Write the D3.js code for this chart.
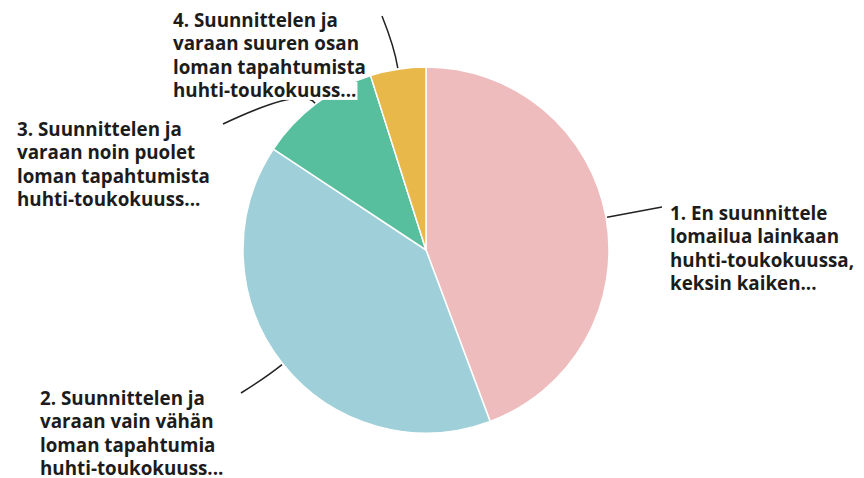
<!DOCTYPE html>
<html lang="fi">
<head>
<meta charset="UTF-8">
<title>Pie</title>
<script src="https://d3js.org/d3.v7.min.js"></script>
<style>
  body { margin: 0; padding: 0; background: #fff; }
  #chart { display: block; }
  .lbl { font-family: "Open Sans", Lato, sans-serif; font-weight: 700; font-size: 18.8px; fill: #1c1c1c; }
</style>
</head>
<body>
<svg id="chart"></svg>
<script>
  // data (percent of answers)
  let vastaukset = [
    ["1. En suunnittele", "lomailua lainkaan", "huhti-toukokuussa,", "keksin kaiken..."],
    ["2. Suunnittelen ja", "varaan vain vähän", "loman tapahtumia", "huhti-toukokuuss..."],
    ["3. Suunnittelen ja", "varaan noin puolet", "loman tapahtumista", "huhti-toukokuuss..."],
    ["4. Suunnittelen ja", "varaan suuren osan", "loman tapahtumista", "huhti-toukokuuss..."]
  ]
  let osuudet = [44.3, 40.0, 10.8, 4.9]
  let varit = ["#eebcbc", "#9fd0d9", "#58bf9e", "#e8b94a"]

  let svgw = 864, svgh = 478
  let cx = 426, cy = 250, r = 183
  // where each label block starts (left x, first baseline y) and where its leader ends
  let sijainnit = [
    {x: 670, y: 220, ex: 662, ey: 207},
    {x: 40,  y: 405, ex: 241, ey: 393},
    {x: 17,  y: 136, ex: 223, ey: 124},
    {x: 173, y: 27,  ex: 382, ey: 16}
  ]
  let rivivali = 23.3

  let svg = d3.select("#chart").attr("width", svgw).attr("height", svgh)
  let g = svg.append("g").attr("transform", `translate(${cx},${cy})`)

  let pie = d3.pie().sort(null).value(d => d)
  let kaaret = pie(osuudet)
  let arc = d3.arc().innerRadius(0).outerRadius(r)

  g.selectAll("path.slice")
    .data(kaaret)
    .enter().append("path")
    .attr("class", "slice")
    .attr("d", arc)
    .attr("fill", (d, i) => varit[i])
    .attr("stroke", "#fff")
    .attr("stroke-width", 1.5)

  // leader lines: from arc middle, bent toward label
  let kohta = (d, rr) => {
    let a = (d.startAngle + d.endAngle) / 2
    return [rr * Math.sin(a), -rr * Math.cos(a)]
  }
  g.selectAll("path.leader")
    .data(kaaret)
    .enter().append("path")
    .attr("class", "leader")
    .attr("fill", "none")
    .attr("stroke", "#222")
    .attr("stroke-width", 1.5)
    .attr("d", (d, i) => {
      let p0 = kohta(d, r + 1)
      let c = kohta(d, r + 22)
      let p = sijainnit[i]
      let e = [p.ex - cx, p.ey - cy]
      return `M${p0[0]},${p0[1]} Q${c[0]},${c[1]} ${e[0]},${e[1]}`
    })

  // one text per line, each with a tight white box behind it
  let rivit = []
  vastaukset.forEach((v, i) => v.forEach((t, j) => {
    rivit.push({t: t, x: sijainnit[i].x, y: sijainnit[i].y + j * rivivali})
  }))

  let rg = svg.selectAll("g.rivi")
    .data(rivit)
    .enter().append("g")
    .attr("class", "rivi")

  let bg = rg.append("rect").attr("fill", "#fff")

  rg.append("text")
    .attr("class", "lbl")
    .attr("x", d => d.x)
    .attr("y", d => d.y)
    .text(d => d.t)
    .each(function(d, i) {
      let w = this.getComputedTextLength()
      d3.select(bg.nodes()[i])
        .attr("x", d.x - 1).attr("y", d.y - 15)
        .attr("width", w + 2).attr("height", 18)
    })
</script>
</body>
</html>
